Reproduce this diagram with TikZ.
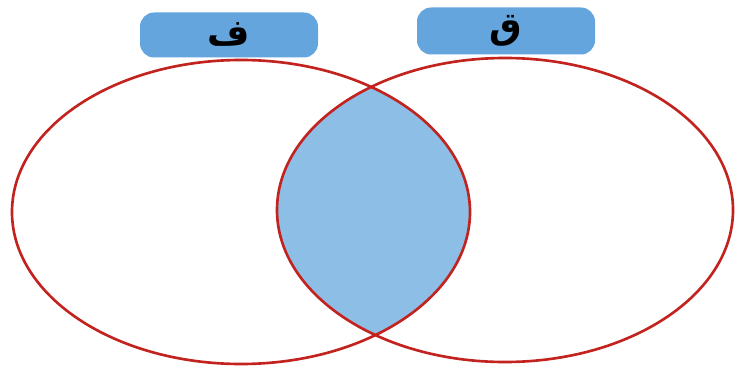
\documentclass[tikz,border=0pt]{standalone}
\usepackage{fontspec}
\usepackage{xcolor}
\usepackage{tikz}
\usetikzlibrary{positioning,shapes.geometric}
\TeXXeTstate=1
\newfontfamily\arabicfont[Script=Arabic]{DejaVu Sans}
\definecolor{RimRed}{RGB}{195,35,30}
\definecolor{ShadeBlue}{RGB}{140,190,230}
\definecolor{TagBlue}{RGB}{100,165,222}

\begin{document}
\begin{tikzpicture}
  \useasboundingbox (0,0) rectangle (14.78,7.44);
  % shaded common part
  \begin{scope}
    \clip (4.82,3.20) ellipse [x radius=4.58cm, y radius=3.04cm];
    \fill[ShadeBlue] (10.10,3.24) ellipse [x radius=4.56cm, y radius=3.04cm];
  \end{scope}
  \node[ellipse, draw=RimRed, line width=1.5pt, minimum width=9.16cm, minimum height=6.08cm, inner sep=0pt] (setF) at (4.82,3.20) {};
  \node[ellipse, draw=RimRed, line width=1.5pt, minimum width=9.12cm, minimum height=6.08cm, inner sep=0pt] (setQ) at (10.10,3.24) {};
  % labels
  \node[rounded corners=8pt, fill=TagBlue, minimum width=3.56cm, minimum height=0.9cm, inner sep=0pt, font=\arabicfont\bfseries\huge] (tagF) at (4.58,6.74) {\beginR ف\endR};
  \node[rounded corners=8pt, fill=TagBlue, minimum width=3.56cm, minimum height=0.94cm, inner sep=0pt, font=\arabicfont\bfseries\huge] (tagQ) at (10.12,6.82) {\beginR ق\endR};
\end{tikzpicture}
\end{document}
